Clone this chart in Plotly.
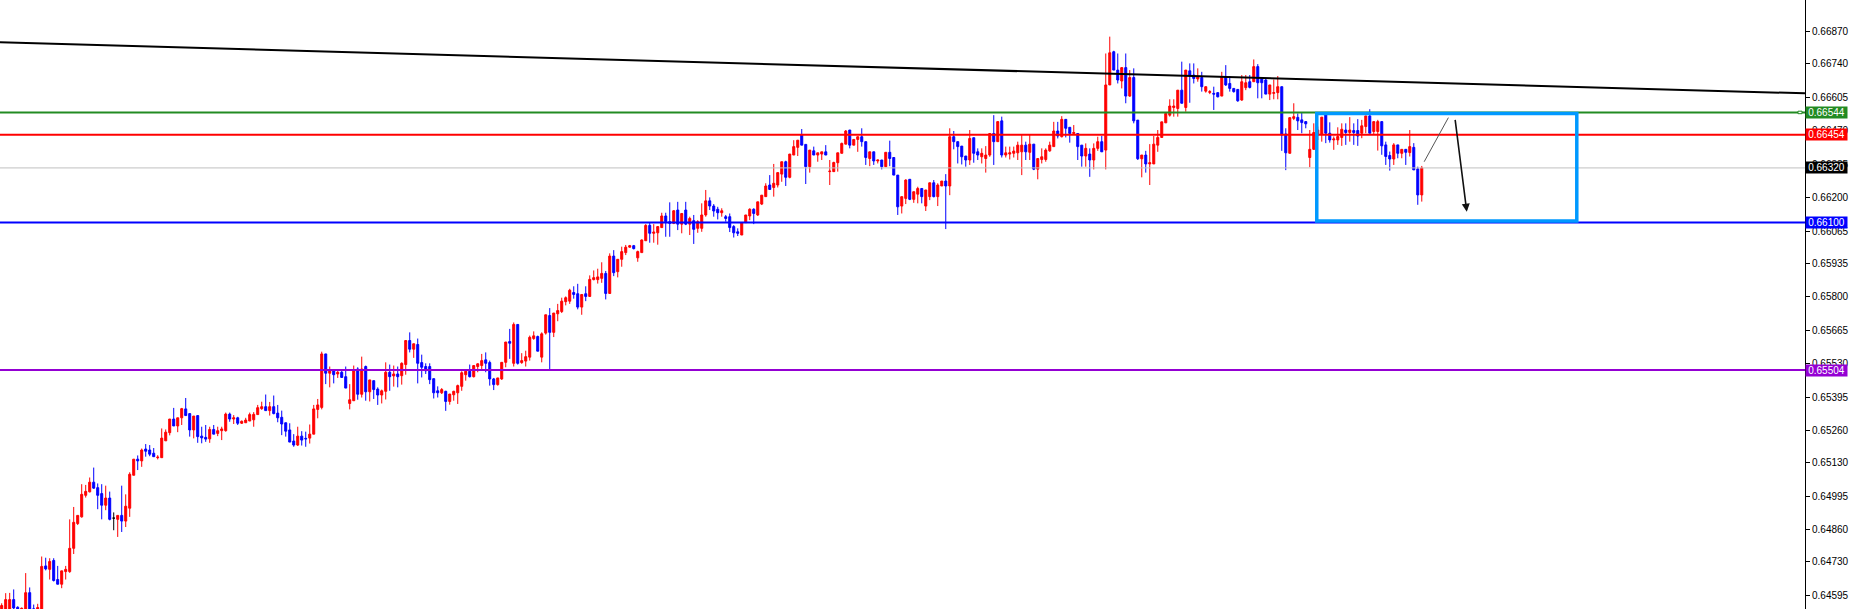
import plotly.graph_objects as go

# ---------------- data ----------------
opens = [
 0.64530,0.64530,0.64537,0.64577,0.64546,0.64536,0.64530,0.64605,0.64540,0.64520,
 0.64530,0.64713,0.64699,0.64735,0.64658,0.64639,0.64690,0.64690,0.64784,0.64884,
 0.64911,0.64998,0.65012,0.65051,0.65029,0.65005,0.64958,0.64987,0.64906,0.64901,
 0.64917,0.64894,0.64946,0.65079,0.65144,0.65137,0.65185,0.65181,0.65168,0.65150,
 0.65150,0.65218,0.65251,0.65306,0.65278,0.65311,0.65347,0.65328,0.65262,0.65320,
 0.65237,0.65232,0.65226,0.65264,0.65248,0.65259,0.65259,0.65326,0.65306,0.65311,
 0.65289,0.65291,0.65298,0.65303,0.65324,0.65348,0.65356,0.65340,0.65356,0.65330,
 0.65313,0.65291,0.65262,0.65217,0.65201,0.65237,0.65228,0.65229,0.65245,0.65345,
 0.65353,0.65569,0.65491,0.65501,0.65488,0.65495,0.65477,0.65369,0.65380,0.65508,
 0.65406,0.65518,0.65416,0.65461,0.65427,0.65403,0.65418,0.65495,0.65480,0.65488,
 0.65481,0.65526,0.65623,0.65588,0.65607,0.65534,0.65518,0.65518,0.65469,0.65420,
 0.65412,0.65418,0.65377,0.65404,0.65412,0.65438,0.65485,0.65499,0.65477,0.65518,
 0.65522,0.65545,0.65534,0.65468,0.65445,0.65468,0.65535,0.65619,0.65531,0.65688,
 0.65534,0.65540,0.65556,0.65631,0.65639,0.65556,0.65653,0.65724,0.65656,0.65731,
 0.65740,0.65780,0.65782,0.65817,0.65812,0.65758,0.65812,0.65801,0.65869,0.65869,
 0.65874,0.65894,0.65813,0.65964,0.65901,0.65951,0.65978,0.66000,0.66006,0.65957,
 0.65978,0.66026,0.66088,0.66056,0.66058,0.66079,0.66126,0.66103,0.66096,0.66150,
 0.66093,0.66150,0.66093,0.66107,0.66076,0.66076,0.66130,0.66187,0.66166,0.66153,
 0.66139,0.66123,0.66123,0.66083,0.66062,0.66049,0.66099,0.66126,0.66153,0.66130,
 0.66174,0.66204,0.66251,0.66241,0.66251,0.66295,0.66345,0.66282,0.66372,0.66403,
 0.66454,0.66415,0.66325,0.66389,0.66372,0.66376,0.66385,0.66305,0.66305,0.66341,
 0.66379,0.66416,0.66473,0.66412,0.66435,0.66446,0.66426,0.66358,0.66385,0.66348,
 0.66352,0.66325,0.66383,0.66362,0.66291,0.66166,0.66197,0.66274,0.66193,0.66214,
 0.66237,0.66166,0.66204,0.66260,0.66204,0.66247,0.66267,0.66247,0.66446,0.66426,
 0.66408,0.66368,0.66352,0.66442,0.66385,0.66365,0.66358,0.66372,0.66459,0.66426,
 0.66510,0.66372,0.66376,0.66379,0.66381,0.66385,0.66412,0.66383,0.66416,0.66315,
 0.66354,0.66354,0.66389,0.66406,0.66469,0.66446,0.66516,0.66484,0.66459,0.66459,
 0.66412,0.66368,0.66376,0.66352,0.66399,0.66426,0.66392,0.66655,0.66789,0.66715,
 0.66671,0.66725,0.66610,0.66685,0.66513,0.66357,0.66372,0.66336,0.66336,0.66412,
 0.66443,0.66502,0.66533,0.66564,0.66560,0.66634,0.66564,0.66712,0.66695,0.66679,
 0.66685,0.66630,0.66625,0.66621,0.66624,0.66610,0.66688,0.66661,0.66641,0.66637,
 0.66594,0.66644,0.66668,0.66668,0.66729,0.66680,0.66675,0.66618,0.66621,0.66624,
 0.66648,0.66457,0.66379,0.66520,0.66524,0.66514,0.66507,0.66362,0.66395,0.66453,
 0.66457,0.66534,0.66460,0.66433,0.66433,0.66443,0.66473,0.66463,0.66471,0.66471,
 0.66460,0.66487,0.66530,0.66467,0.66467,0.66507,0.66413,0.66370,0.66356,0.66413,
 0.66379,0.66395,0.66382,0.66403,0.66316,0.66211]

highs = [
 0.64562,0.64603,0.64604,0.64618,0.64550,0.64545,0.64684,0.64626,0.64557,0.64560,
 0.64751,0.64746,0.64744,0.64744,0.64713,0.64693,0.64713,0.64901,0.64951,0.64917,
 0.65043,0.65040,0.65070,0.65110,0.65046,0.65043,0.65037,0.65013,0.64929,0.64917,
 0.65037,0.65002,0.65091,0.65144,0.65159,0.65187,0.65205,0.65201,0.65189,0.65160,
 0.65268,0.65264,0.65306,0.65351,0.65311,0.65351,0.65391,0.65328,0.65318,0.65320,
 0.65275,0.65282,0.65275,0.65282,0.65275,0.65275,0.65332,0.65332,0.65322,0.65315,
 0.65300,0.65311,0.65332,0.65334,0.65363,0.65376,0.65405,0.65375,0.65401,0.65363,
 0.65340,0.65291,0.65289,0.65245,0.65275,0.65257,0.65255,0.65284,0.65363,0.65387,
 0.65578,0.65569,0.65518,0.65504,0.65501,0.65501,0.65518,0.65447,0.65522,0.65515,
 0.65558,0.65522,0.65464,0.65461,0.65434,0.65425,0.65535,0.65526,0.65522,0.65518,
 0.65535,0.65623,0.65656,0.65610,0.65631,0.65566,0.65531,0.65531,0.65469,0.65438,
 0.65431,0.65420,0.65407,0.65420,0.65445,0.65499,0.65504,0.65526,0.65522,0.65531,
 0.65569,0.65575,0.65542,0.65472,0.65472,0.65535,0.65617,0.65670,0.65696,0.65688,
 0.65572,0.65582,0.65643,0.65660,0.65643,0.65656,0.65727,0.65754,0.65734,0.65771,
 0.65796,0.65801,0.65832,0.65842,0.65852,0.65809,0.65842,0.65886,0.65906,0.65913,
 0.65939,0.65904,0.65975,0.65988,0.65951,0.66002,0.66009,0.66009,0.66009,0.65986,
 0.66031,0.66093,0.66099,0.66093,0.66085,0.66139,0.66139,0.66181,0.66150,0.66183,
 0.66136,0.66183,0.66123,0.66130,0.66109,0.66177,0.66231,0.66201,0.66174,0.66163,
 0.66157,0.66130,0.66136,0.66089,0.66076,0.66099,0.66130,0.66157,0.66157,0.66183,
 0.66210,0.66258,0.66291,0.66336,0.66301,0.66345,0.66349,0.66376,0.66432,0.66432,
 0.66477,0.66415,0.66392,0.66406,0.66381,0.66385,0.66412,0.66352,0.66345,0.66381,
 0.66422,0.66473,0.66473,0.66435,0.66446,0.66480,0.66426,0.66385,0.66385,0.66352,
 0.66352,0.66383,0.66430,0.66362,0.66291,0.66204,0.66274,0.66274,0.66224,0.66244,
 0.66237,0.66231,0.66260,0.66271,0.66258,0.66267,0.66295,0.66480,0.66469,0.66426,
 0.66408,0.66368,0.66473,0.66442,0.66399,0.66399,0.66408,0.66459,0.66533,0.66507,
 0.66527,0.66406,0.66406,0.66406,0.66426,0.66453,0.66426,0.66453,0.66416,0.66358,
 0.66399,0.66399,0.66426,0.66506,0.66506,0.66529,0.66516,0.66484,0.66493,0.66459,
 0.66412,0.66419,0.66399,0.66419,0.66446,0.66449,0.66782,0.66850,0.66793,0.66782,
 0.66725,0.66782,0.66715,0.66722,0.66513,0.66372,0.66389,0.66416,0.66449,0.66473,
 0.66506,0.66540,0.66597,0.66597,0.66634,0.66749,0.66715,0.66742,0.66742,0.66722,
 0.66708,0.66648,0.66634,0.66648,0.66624,0.66708,0.66735,0.66691,0.66641,0.66637,
 0.66695,0.66695,0.66695,0.66758,0.66739,0.66680,0.66680,0.66655,0.66677,0.66691,
 0.66648,0.66480,0.66523,0.66581,0.66540,0.66543,0.66507,0.66473,0.66500,0.66487,
 0.66525,0.66541,0.66504,0.66447,0.66484,0.66500,0.66500,0.66525,0.66500,0.66517,
 0.66514,0.66530,0.66557,0.66507,0.66514,0.66507,0.66426,0.66386,0.66420,0.66413,
 0.66395,0.66395,0.66473,0.66420,0.66325,0.66328]

lows = [
 0.64500,0.64510,0.64520,0.64530,0.64530,0.64530,0.64520,0.64520,0.64510,0.64510,
 0.64520,0.64695,0.64658,0.64650,0.64639,0.64623,0.64658,0.64685,0.64761,0.64878,
 0.64908,0.64989,0.65010,0.65024,0.64942,0.64901,0.64938,0.64897,0.64857,0.64830,
 0.64850,0.64870,0.64911,0.65079,0.65100,0.65113,0.65154,0.65156,0.65154,0.65143,
 0.65150,0.65218,0.65240,0.65278,0.65253,0.65282,0.65320,0.65235,0.65228,0.65210,
 0.65208,0.65214,0.65210,0.65245,0.65237,0.65221,0.65255,0.65295,0.65286,0.65282,
 0.65286,0.65291,0.65298,0.65275,0.65324,0.65343,0.65340,0.65320,0.65325,0.65293,
 0.65241,0.65235,0.65213,0.65194,0.65197,0.65199,0.65194,0.65207,0.65245,0.65309,
 0.65345,0.65447,0.65434,0.65450,0.65472,0.65472,0.65431,0.65345,0.65380,0.65384,
 0.65393,0.65380,0.65377,0.65387,0.65363,0.65369,0.65385,0.65420,0.65437,0.65434,
 0.65445,0.65485,0.65575,0.65553,0.65450,0.65474,0.65488,0.65447,0.65389,0.65393,
 0.65407,0.65339,0.65364,0.65380,0.65367,0.65420,0.65461,0.65474,0.65474,0.65495,
 0.65501,0.65495,0.65441,0.65423,0.65441,0.65464,0.65515,0.65549,0.65518,0.65526,
 0.65529,0.65518,0.65542,0.65626,0.65580,0.65535,0.65647,0.65508,0.65637,0.65701,
 0.65734,0.65765,0.65771,0.65792,0.65749,0.65727,0.65782,0.65801,0.65866,0.65853,
 0.65856,0.65789,0.65813,0.65883,0.65878,0.65921,0.65968,0.65998,0.65991,0.65941,
 0.65978,0.66026,0.66018,0.66018,0.66010,0.66079,0.66042,0.66042,0.66093,0.66069,
 0.66056,0.66089,0.66049,0.66013,0.66058,0.66062,0.66123,0.66150,0.66123,0.66112,
 0.66123,0.66103,0.66061,0.66039,0.66045,0.66049,0.66099,0.66109,0.66093,0.66126,
 0.66170,0.66204,0.66233,0.66204,0.66241,0.66264,0.66247,0.66278,0.66372,0.66368,
 0.66412,0.66255,0.66301,0.66372,0.66345,0.66352,0.66372,0.66251,0.66305,0.66305,
 0.66379,0.66416,0.66399,0.66412,0.66385,0.66406,0.66332,0.66327,0.66332,0.66338,
 0.66314,0.66325,0.66327,0.66291,0.66130,0.66136,0.66174,0.66190,0.66179,0.66177,
 0.66177,0.66146,0.66190,0.66201,0.66166,0.66247,0.66073,0.66210,0.66395,0.66338,
 0.66334,0.66325,0.66332,0.66341,0.66352,0.66338,0.66301,0.66365,0.66332,0.66426,
 0.66362,0.66362,0.66354,0.66362,0.66352,0.66291,0.66352,0.66352,0.66311,0.66274,
 0.66338,0.66345,0.66385,0.66406,0.66439,0.66443,0.66443,0.66422,0.66453,0.66352,
 0.66325,0.66325,0.66284,0.66314,0.66389,0.66385,0.66314,0.66655,0.66715,0.66661,
 0.66641,0.66581,0.66607,0.66500,0.66352,0.66282,0.66301,0.66251,0.66336,0.66385,
 0.66443,0.66502,0.66527,0.66527,0.66527,0.66581,0.66547,0.66583,0.66661,0.66668,
 0.66628,0.66624,0.66618,0.66554,0.66605,0.66610,0.66651,0.66628,0.66624,0.66587,
 0.66591,0.66634,0.66641,0.66668,0.66601,0.66601,0.66618,0.66594,0.66597,0.66597,
 0.66389,0.66311,0.66379,0.66513,0.66473,0.66460,0.66480,0.66323,0.66393,0.66433,
 0.66426,0.66420,0.66422,0.66393,0.66413,0.66409,0.66413,0.66426,0.66413,0.66409,
 0.66440,0.66460,0.66460,0.66453,0.66390,0.66373,0.66332,0.66309,0.66332,0.66359,
 0.66359,0.66332,0.66366,0.66312,0.66171,0.66184]

closes = [
 0.64553,0.64577,0.64577,0.64543,0.64539,0.64542,0.64605,0.64530,0.64520,0.64545,
 0.64711,0.64701,0.64731,0.64654,0.64639,0.64693,0.64699,0.64784,0.64889,0.64917,
 0.65002,0.65014,0.65051,0.65027,0.64998,0.64958,0.64987,0.64901,0.64906,0.64917,
 0.64894,0.64954,0.65083,0.65144,0.65137,0.65181,0.65176,0.65164,0.65154,0.65152,
 0.65229,0.65253,0.65306,0.65278,0.65311,0.65348,0.65320,0.65262,0.65318,0.65235,
 0.65230,0.65225,0.65264,0.65245,0.65259,0.65266,0.65326,0.65306,0.65311,0.65289,
 0.65297,0.65302,0.65324,0.65325,0.65352,0.65356,0.65340,0.65356,0.65328,0.65311,
 0.65286,0.65257,0.65213,0.65201,0.65237,0.65221,0.65226,0.65245,0.65347,0.65363,
 0.65569,0.65491,0.65504,0.65485,0.65495,0.65474,0.65431,0.65384,0.65504,0.65406,
 0.65508,0.65416,0.65464,0.65425,0.65403,0.65420,0.65495,0.65477,0.65488,0.65477,
 0.65531,0.65623,0.65588,0.65610,0.65531,0.65515,0.65501,0.65465,0.65412,0.65412,
 0.65425,0.65377,0.65407,0.65418,0.65441,0.65493,0.65499,0.65477,0.65522,0.65529,
 0.65542,0.65531,0.65468,0.65445,0.65472,0.65535,0.65617,0.65612,0.65688,0.65531,
 0.65542,0.65558,0.65636,0.65642,0.65580,0.65650,0.65727,0.65656,0.65734,0.65744,
 0.65782,0.65796,0.65826,0.65809,0.65758,0.65809,0.65801,0.65870,0.65877,0.65880,
 0.65894,0.65813,0.65964,0.65897,0.65951,0.65982,0.66000,0.66006,0.65994,0.65982,
 0.66029,0.66088,0.66056,0.66061,0.66083,0.66126,0.66103,0.66096,0.66147,0.66093,
 0.66136,0.66093,0.66116,0.66072,0.66103,0.66130,0.66187,0.66166,0.66146,0.66139,
 0.66147,0.66116,0.66079,0.66058,0.66056,0.66099,0.66130,0.66153,0.66136,0.66183,
 0.66210,0.66247,0.66233,0.66258,0.66301,0.66345,0.66282,0.66376,0.66406,0.66432,
 0.66412,0.66325,0.66392,0.66372,0.66381,0.66385,0.66372,0.66307,0.66342,0.66381,
 0.66419,0.66469,0.66412,0.66435,0.66446,0.66426,0.66362,0.66385,0.66348,0.66352,
 0.66325,0.66383,0.66358,0.66291,0.66163,0.66204,0.66271,0.66193,0.66224,0.66237,
 0.66204,0.66231,0.66260,0.66204,0.66251,0.66267,0.66247,0.66446,0.66426,0.66406,
 0.66365,0.66352,0.66439,0.66379,0.66372,0.66379,0.66372,0.66459,0.66426,0.66507,
 0.66372,0.66381,0.66381,0.66388,0.66412,0.66412,0.66385,0.66416,0.66315,0.66358,
 0.66365,0.66392,0.66412,0.66469,0.66449,0.66516,0.66480,0.66459,0.66463,0.66406,
 0.66368,0.66399,0.66352,0.66399,0.66426,0.66385,0.66655,0.66785,0.66715,0.66675,
 0.66725,0.66610,0.66685,0.66510,0.66357,0.66372,0.66336,0.66341,0.66416,0.66443,
 0.66506,0.66540,0.66570,0.66570,0.66634,0.66581,0.66715,0.66695,0.66681,0.66688,
 0.66648,0.66648,0.66628,0.66618,0.66607,0.66688,0.66655,0.66641,0.66628,0.66591,
 0.66668,0.66664,0.66645,0.66729,0.66664,0.66664,0.66618,0.66655,0.66624,0.66648,
 0.66453,0.66381,0.66523,0.66527,0.66510,0.66503,0.66498,0.66395,0.66463,0.66473,
 0.66525,0.66460,0.66433,0.66437,0.66447,0.66476,0.66463,0.66473,0.66463,0.66449,
 0.66490,0.66530,0.66460,0.66507,0.66507,0.66409,0.66366,0.66356,0.66413,0.66379,
 0.66395,0.66383,0.66406,0.66312,0.66211,0.66320]

tick_values = [0.66870, 0.66740, 0.66605, 0.66470, 0.66335, 0.66200, 0.66065,
               0.65935, 0.65800, 0.65665, 0.65530, 0.65395, 0.65260, 0.65130,
               0.64995, 0.64860, 0.64730, 0.64595]
tick_labels = [f"{v:.5f}" for v in tick_values]
top_label = 0.67005

level_prices = [0.66544, 0.66454, 0.66320, 0.66100, 0.65504]
level_colors = ["#228B22", "#FF0000", "#C0C0C0", "#0000FF", "#9400D3"]
level_widths = [2, 2, 1, 2, 2]
label_colors = ["#228B22", "#FF0000", "#000000", "#0000FF", "#9400D3"]

trend_prices = [0.66827, 0.66621]          # at left and right edge of plot
box_x = [328.75, 393.75]
box_y = [0.66106, 0.66540]
up_leg = [(355.6, 0.66345), (361.65, 0.66523)]
down_leg = [(363.3, 0.66520), (366.25, 0.66143)]

X_RANGE = [-0.425, 450.8]
Y_RANGE = [0.64539, 0.66998]

# ---------------- figure ----------------
n = len(opens)
xs = list(range(n))
doji = [i for i in range(n) if abs(opens[i] - closes[i]) < 1e-9]
main = [i for i in range(n) if i not in doji]

def pick(arr, idx):
    return [arr[i] for i in idx]

fig = go.Figure()
fig.add_trace(go.Candlestick(
    x=pick(xs, main), open=pick(opens, main), high=pick(highs, main),
    low=pick(lows, main), close=pick(closes, main),
    increasing=dict(line=dict(color="#FF0000", width=1), fillcolor="#FF0000"),
    decreasing=dict(line=dict(color="#0000FF", width=1), fillcolor="#0000FF"),
    whiskerwidth=0, showlegend=False, hoverinfo="skip"))
if doji:
    fig.add_trace(go.Candlestick(
        x=pick(xs, doji), open=pick(opens, doji), high=pick(highs, doji),
        low=pick(lows, doji), close=pick(closes, doji),
        increasing=dict(line=dict(color="#000000", width=1), fillcolor="#000000"),
        decreasing=dict(line=dict(color="#000000", width=1), fillcolor="#000000"),
        whiskerwidth=0, showlegend=False, hoverinfo="skip"))

# trend line
fig.add_shape(type="line", xref="paper", yref="y", x0=0, x1=1,
              y0=trend_prices[0], y1=trend_prices[1],
              line=dict(color="#000000", width=2), layer="above")

# horizontal levels
for p, c, w in zip(level_prices, level_colors, level_widths):
    fig.add_shape(type="line", xref="paper", yref="y", x0=0, x1=1, y0=p, y1=p,
                  line=dict(color=c, width=w), layer="above")

# small anchor square on the green level
fig.add_shape(type="rect", xref="paper", yref="y", x0=0.99612, x1=0.99834,
              y0=level_prices[0] - 0.00005, y1=level_prices[0] + 0.00005,
              line=dict(color=level_colors[0], width=1), fillcolor="white", layer="above")

# blue rectangle
fig.add_shape(type="rect", xref="x", yref="y", x0=box_x[0], x1=box_x[1],
              y0=box_y[0], y1=box_y[1], line=dict(color="#0099FF", width=3.5),
              fillcolor="rgba(0,0,0,0)", layer="above")

# projected path
fig.add_shape(type="line", xref="x", yref="y", x0=up_leg[0][0], y0=up_leg[0][1],
              x1=up_leg[1][0], y1=up_leg[1][1], line=dict(color="#555555", width=1),
              layer="above")
fig.add_annotation(x=down_leg[1][0], y=down_leg[1][1], ax=down_leg[0][0], ay=down_leg[0][1],
                   xref="x", yref="y", axref="x", ayref="y", text="", showarrow=True,
                   arrowhead=2, arrowsize=1, arrowwidth=1.6, arrowcolor="#111111")

# price labels on axis
FONT = "Liberation Sans, Arial, sans-serif"
for p, bg in zip(level_prices, label_colors):
    fig.add_annotation(x=1, xref="paper", xanchor="left", xshift=0, y=p, yref="y",
                       yanchor="middle", text=f"{p:.5f}", showarrow=False,
                       bgcolor=bg, borderpad=0, width=41, height=11, align="center",
                       font=dict(color="white", size=10, family=FONT))

fig.add_annotation(x=1, xref="paper", xanchor="left", xshift=6, y=top_label, yref="y",
                   yanchor="middle", text=f"{top_label:.5f}", showarrow=False,
                   font=dict(color="black", size=10, family=FONT))

fig.update_layout(
    template="none",
    width=1851, height=609,
    margin=dict(l=0, r=46, t=0, b=0),
    paper_bgcolor="white", plot_bgcolor="white",
    showlegend=False,
    boxgap=0.5, boxgroupgap=0,
    font=dict(family=FONT, size=10, color="black"),
    xaxis=dict(range=X_RANGE, visible=False, rangeslider=dict(visible=False),
               showgrid=False, zeroline=False, fixedrange=True),
    yaxis=dict(range=Y_RANGE, side="right", showgrid=False, zeroline=False,
               showline=True, linecolor="black", linewidth=1, mirror=False,
               ticks="outside", ticklen=4, tickcolor="black", tickwidth=1,
               tickvals=tick_values, ticktext=tick_labels, automargin=False,
               tickfont=dict(family=FONT, size=10, color="black"), fixedrange=True),
)

fig.write_html("out.html", config={"displayModeBar": False},
               post_script="document.body.style.margin='0';document.body.style.overflow='hidden';")
